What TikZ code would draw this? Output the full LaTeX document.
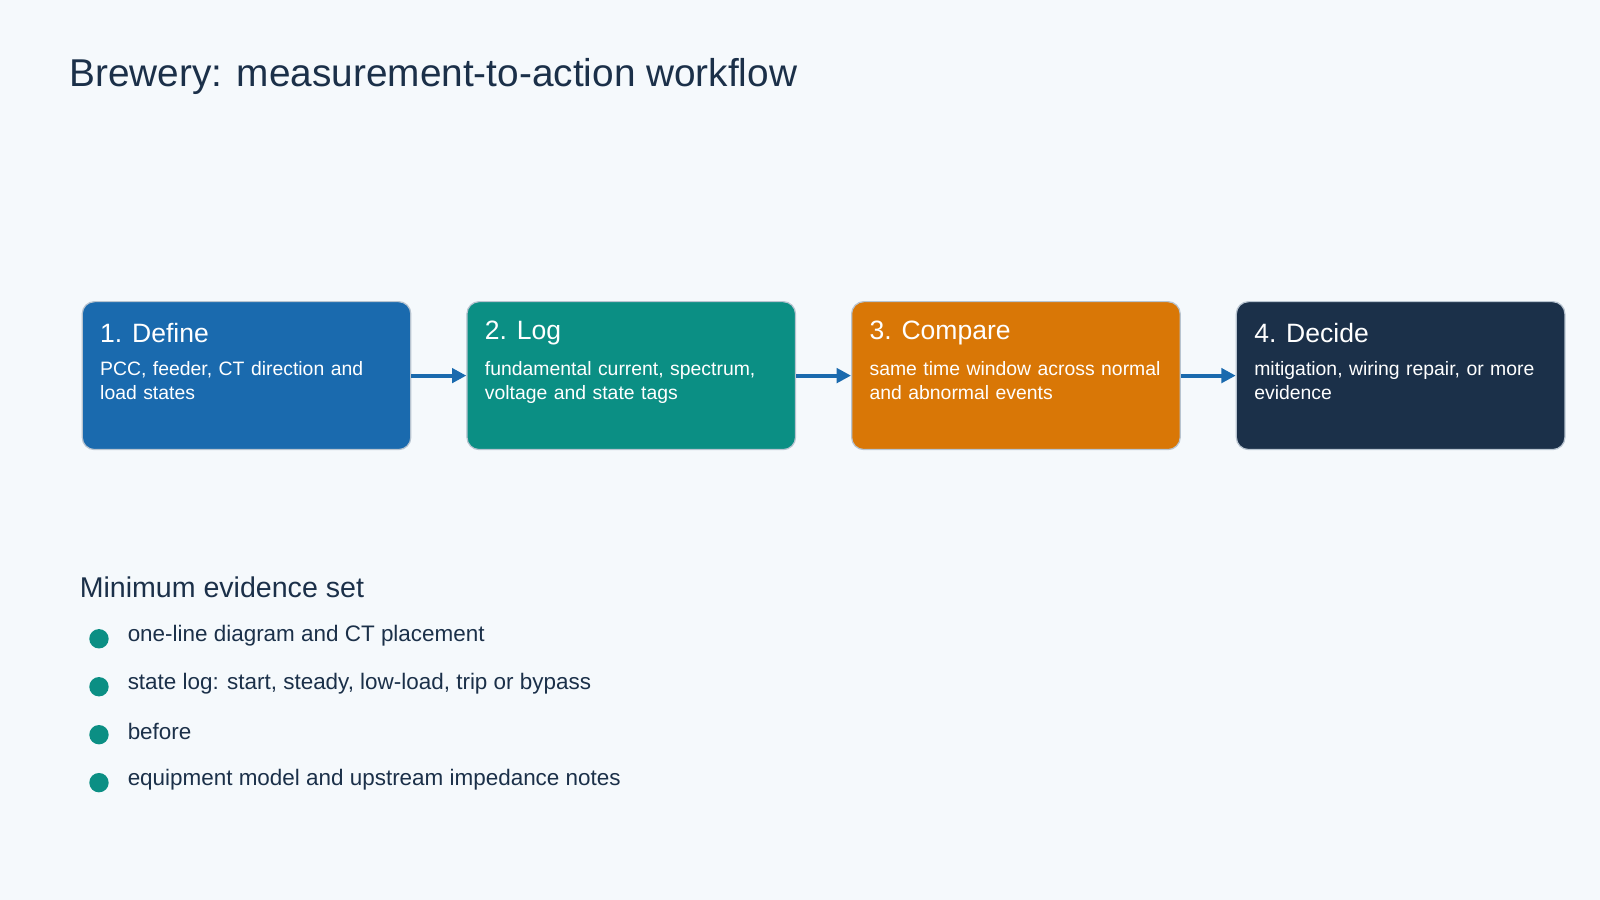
\documentclass[tikz,border=0pt]{standalone}
\usepackage{fontspec}
\setmainfont{Liberation Sans}
\usetikzlibrary{arrows.meta}
\definecolor{bg}{HTML}{F5F9FC}
\definecolor{ink}{HTML}{1B3049}
\definecolor{cblue}{HTML}{1A6AAE}
\definecolor{cteal}{HTML}{0B8F84}
\definecolor{corange}{HTML}{D97706}
\definecolor{cnavy}{HTML}{1B3049}
\definecolor{edge}{HTML}{B8C4D0}
\tikzset{
 stepbox/.style={draw=edge,line width=1.2pt,rounded corners=12pt,minimum width=322pt,minimum height=145pt,anchor=north west},
 boxtitle/.style={anchor=west,text=white,font=\fontsize{26}{30}\selectfont},
 boxbody/.style={anchor=north west,text=white,align=left,text width=290pt,inner sep=0pt,font=\fontsize{19}{24}\selectfont},
 flow/.style={draw=cblue,line width=4pt,-{Triangle[length=14pt,width=14pt]}},
 dot/.style={circle,fill=cteal,minimum size=19pt,inner sep=0pt},
 item/.style={anchor=west,text=ink,inner sep=0pt,font=\fontsize{22}{26}\selectfont},
}
\begin{document}
\begin{tikzpicture}[x=1pt,y=-1pt]
\fill[bg] (0,0) rectangle (1568,882);
\useasboundingbox (0,0) rectangle (1568,882);
\node[anchor=west,text=ink,inner sep=0pt,font=\fontsize{38}{44}\selectfont] (title) at (68,75) {Brewery: measurement-to-action workflow};
\foreach \n/\x/\c/\t/\b in {1/80/cblue/1. Define/{PCC, feeder, CT direction and load states},2/457/cteal/2. Log/{fundamental current, spectrum, voltage and state tags},3/834/corange/3. Compare/{same time window across normal and abnormal events},4/1211/cnavy/4. Decide/{mitigation, wiring repair, or more evidence}}{
 \node[stepbox,fill=\c] (b\n) at (\x,295) {};
 \node[boxtitle,inner sep=0pt] (t\n) at (\x+18,326) {\t};
 \node[boxbody] (d\n) at (\x+18,354) {\b};
}
\draw[flow] (b1.east) -- (b2.west);
\draw[flow] (b2.east) -- (b3.west);
\draw[flow] (b3.east) -- (b4.west);
\node[anchor=west,text=ink,inner sep=0pt,font=\fontsize{28}{32}\selectfont] (ev) at (78,576) {Minimum evidence set};
\foreach \i/\y/\t in {1/623/one-line diagram and CT placement,2/670/{state log: start, steady, low-load, trip or bypass},3/717/before/after values at the same electrical boundary,4/764/equipment model and upstream impedance notes}{
 \node[dot] (p\i) at (97,\y+3) {};
 \node[item] (i\i) at (125,\y) {\t};
}
\end{tikzpicture}
\end{document}
